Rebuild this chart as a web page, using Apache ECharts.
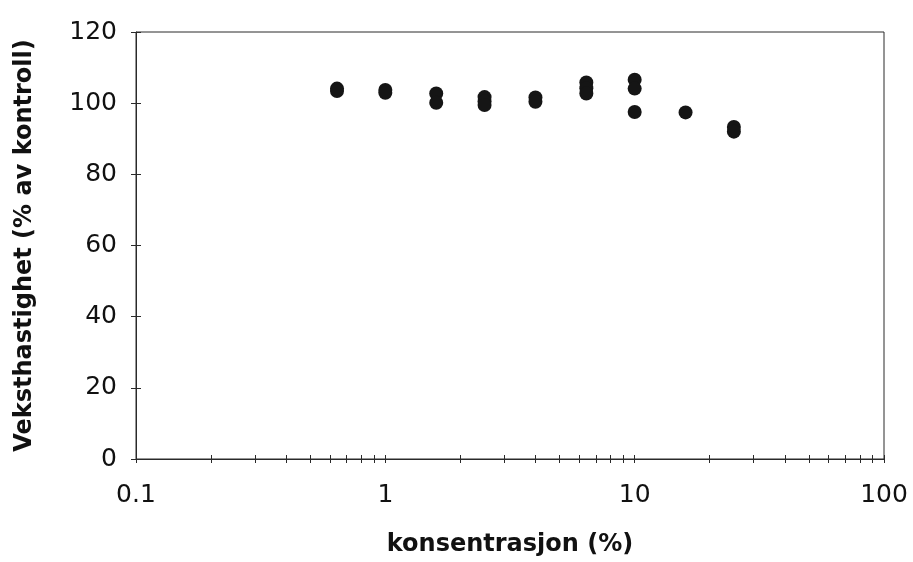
<!DOCTYPE html>
<html>
<head>
<meta charset="utf-8">
<script src="https://cdn.jsdelivr.net/npm/echarts@6/dist/echarts.min.js"></script>
<style>
html,body{margin:0;padding:0;background:#fff;}
#chart{width:913px;height:562px;}
</style>
</head>
<body>
<div id="chart"></div>
<script>
// Concentration (%) for each measured point
var concentration = [0.64, 0.64, 1, 1, 1.6, 1.6, 2.5, 2.5, 2.5, 4, 4, 6.4, 6.4, 6.4, 10, 10, 10, 16, 25, 25];
// Growth rate (% of control) for each point
var growthRate = [104.1, 103.4, 103.7, 102.9, 102.7, 100.1, 101.7, 100.5, 99.5, 101.6, 100.4, 105.8, 104.2, 102.7, 106.6, 104.1, 97.5, 97.4, 93.3, 92.0];
// Axis tick values
var xMajorTicks = [0.1, 1, 10, 100];
var xAllTicks = [0.1, 0.2, 0.3, 0.4, 0.5, 0.6, 0.7, 0.8, 0.9, 1, 2, 3, 4, 5, 6, 7, 8, 9, 10, 20, 30, 40, 50, 60, 70, 80, 90, 100];
var yMin = 0, yMax = 120, yStep = 20;
var xTitle = 'konsentrasjon (%)';
var yTitle = 'Veksthastighet (% av kontroll)';

var points = concentration.map(function (c, i) { return [c, growthRate[i]]; });

var lineCol = '#2a2a2a';
var font = 'DejaVu Sans';

var chart = echarts.init(document.getElementById('chart'), null, {renderer: 'canvas'});
chart.setOption({
  animation: false,
  backgroundColor: '#fff',
  grid: {
    left: 136, right: 29, top: 32, bottom: 102,
    show: true, borderColor: lineCol, borderWidth: 1, backgroundColor: 'transparent'
  },
  xAxis: [
    {
      type: 'log', logBase: 10, min: 0.1, max: 100,
      position: 'bottom',
      name: xTitle, nameLocation: 'middle', nameGap: 74,
      nameTextStyle: {fontFamily: font, fontWeight: 'bold', fontSize: 24, color: '#111'},
      axisLine: {show: true, lineStyle: {color: lineCol, width: 1}},
      axisTick: {show: true, inside: false, length: 4, customValues: xAllTicks, lineStyle: {color: lineCol}},
      axisLabel: {show: true, customValues: xMajorTicks, margin: 24, fontFamily: font, fontSize: 25, color: '#111'},
      splitLine: {show: false}, minorTick: {show: false}
    },
    {
      type: 'log', logBase: 10, min: 0.1, max: 100,
      position: 'bottom',
      axisLine: {show: false},
      axisTick: {show: true, inside: true, length: 4, customValues: xAllTicks, lineStyle: {color: lineCol}},
      axisLabel: {show: false},
      splitLine: {show: false}
    }
  ],
  yAxis: [
    {
      type: 'value', min: yMin, max: yMax, interval: yStep,
      position: 'left',
      name: yTitle, nameLocation: 'middle', nameGap: 99,
      nameTextStyle: {fontFamily: font, fontWeight: 'bold', fontSize: 24, color: '#111'},
      axisLine: {show: true, lineStyle: {color: lineCol, width: 1}},
      axisTick: {show: true, inside: false, length: 5, lineStyle: {color: lineCol}},
      axisLabel: {show: true, margin: 19, fontFamily: font, fontSize: 25, color: '#111'},
      splitLine: {show: false}
    },
    {
      type: 'value', min: yMin, max: yMax, interval: yStep,
      position: 'left',
      axisLine: {show: false},
      axisTick: {show: true, inside: true, length: 5, lineStyle: {color: lineCol}},
      axisLabel: {show: false},
      splitLine: {show: false}
    }
  ],
  series: [
    {
      type: 'scatter',
      xAxisIndex: 0, yAxisIndex: 0,
      data: points,
      symbol: 'circle',
      symbolSize: 14,
      itemStyle: {color: '#151515', opacity: 1}
    }
  ]
});
</script>
</body>
</html>
